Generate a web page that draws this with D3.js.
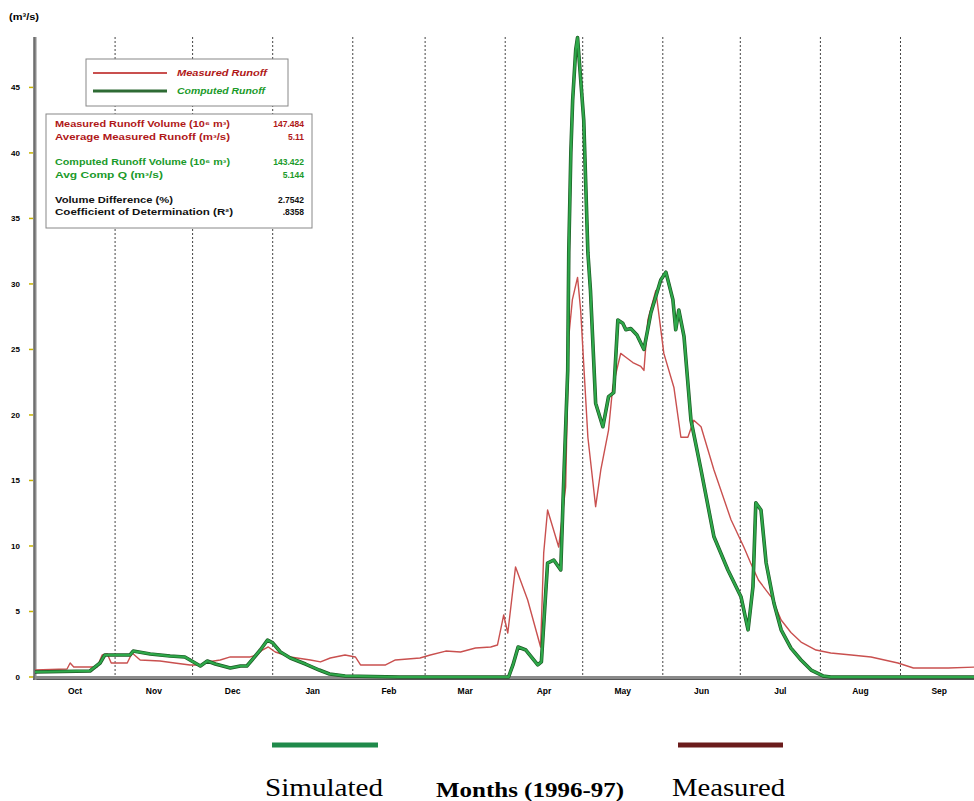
<!DOCTYPE html>
<html>
<head>
<meta charset="utf-8">
<script src="https://cdn.jsdelivr.net/npm/d3@7"></script>
<style>
  html, body { margin: 0; padding: 0; background: #fff; }
  svg { display: block; }
</style>
</head>
<body>
<svg id="chart" width="974" height="801"></svg>
<script>
// ---------------- DATA ----------------
// days since 1 Oct 1996 and discharge (m3/s)
const measuredDays = [0,12.4,13.6,15,24,26,28,29.5,35.7,37.6,40.7,48.4,54,60,64,66.7,71.7,75.6,83.3,85.7,88,90.3,93,98.8,106.6,110.5,114.3,120,124,126,135.7,139.5,149,153,159,164.7,170.5,176.4,179,181.4,183,186,190.7,195.7,196.9,198.4,202.7,205.4,206.6,208,210,211.2,214,217,219,222,223.6,226.7,228.7,231.4,234.5,235.7,237.2,240.3,243.4,247.3,250,252.7,255,257.8,262.8,269.4,274.4,277,280,285,288.8,292.6,296.5,302.3,308,316,323.6,334,340,353.5,364.7];
const measuredValues = [0.53,0.61,1.07,0.76,0.76,1.68,1.76,1.07,1.07,1.83,1.30,1.22,1.07,0.92,0.92,1.15,1.30,1.53,1.53,1.68,2.06,2.29,1.91,1.53,1.30,1.15,1.45,1.68,1.53,0.92,0.92,1.30,1.45,1.68,1.98,1.91,2.21,2.29,2.44,4.73,3.36,8.40,5.88,2.29,9.47,12.75,9.92,14.5,25.95,28.8,30.5,28.0,18.3,13.0,15.8,18.85,22.1,24.7,24.4,24.0,23.7,23.4,27.25,29.5,24.7,22.1,18.3,18.3,19.6,19.1,15.8,12.0,9.9,8.7,7.4,6.1,4.35,3.4,2.67,2.06,1.83,1.68,1.53,1.07,0.69,0.69,0.76];

const computedDays = [0,21.3,25.2,27,36.8,38,44.6,52.3,58,62,64,66.7,69.8,75.6,79.5,82,84,87.2,90,92,95,98.8,104.7,110,114,120,141,183.3,185,187,190,194.6,196,198.4,200.8,203.5,204.7,206.2,206.6,207.4,208.1,209.3,210,212.4,214,215,217,219.8,222,224,225.6,227.5,228.7,230.6,233,235.7,238.4,242.2,244.2,246.9,248,249.2,251.2,253.9,257.8,262.8,268.2,273.3,276,277.9,279,281,283,286,288.8,292.6,296.5,300.4,305,308,364.7];
const computedValues = [0.38,0.46,1.07,1.68,1.68,1.98,1.76,1.60,1.53,1.07,0.84,1.22,0.99,0.69,0.84,0.84,1.30,2.06,2.82,2.60,1.91,1.45,0.99,0.53,0.23,0.08,0,0,0.92,2.29,2.06,0.92,1.15,8.7,8.93,8.17,15.3,23.4,32.4,40.0,44.0,47.9,48.8,42.5,32.4,29.5,20.9,19.1,21.4,21.7,27.25,27.0,26.5,26.6,26.1,25.0,27.8,30.3,30.9,28.8,26.5,28.0,26.0,19.6,15.8,10.7,8.17,6.1,3.6,6.9,13.3,12.75,8.7,5.65,3.6,2.2,1.30,0.53,0.08,0,0];

const monthLabels = ["Oct","Nov","Dec","Jan","Feb","Mar","Apr","May","Jun","Jul","Aug","Sep"];
const yTicks = [0,5,10,15,20,25,30,35,40,45];

const statLabels = [
  "Measured Runoff Volume (10\u2076 m\u00b3)",
  "Average Measured Runoff  (m\u00b3/s)",
  "Computed Runoff Volume (10\u2076 m\u00b3)",
  "Avg Comp Q  (m\u00b3/s)",
  "Volume Difference (%)",
  "Coefficient of Determination (R\u00b2)"
];
const statValues = ["147.484","5.11","143.422","5.144","2.7542",".8358"];
const statGroups = ["m","m","c","c","k","k"];

// ---------------- DRAW ----------------
const svg = d3.select("#chart");
const start = new Date(1996, 9, 1);
const end = new Date(1997, 9, 1);
const x = d3.scaleTime().domain([start, end]).range([35, 978]);
const y = d3.scaleLinear().domain([0, 49]).range([677, 35]);
const dayToDate = d => new Date(start.getTime() + d * 86400000);

const measured = measuredDays.map((d, i) => ({date: dayToDate(d), v: measuredValues[i]}));
const computed = computedDays.map((d, i) => ({date: dayToDate(d), v: computedValues[i]}));

const monthStarts = d3.timeMonth.range(start, end);
const font = "Liberation Sans, Arial, sans-serif";

// month dotted lines
svg.append("g").selectAll("line")
  .data(monthStarts.slice(1))
  .join("line")
  .attr("x1", d => x(d)).attr("x2", d => x(d))
  .attr("y1", 37).attr("y2", 681)
  .attr("stroke", "#444").attr("stroke-width", 1)
  .attr("stroke-dasharray", "2,2");

// x axis line
svg.append("line").attr("x1", 33).attr("x2", 974).attr("y1", 678).attr("y2", 678)
  .attr("stroke", "#8a8a8a").attr("stroke-width", 4);
svg.append("line").attr("x1", 33).attr("x2", 974).attr("y1", 679.5).attr("y2", 679.5)
  .attr("stroke", "#555").attr("stroke-width", 1);

// y axis line
svg.append("line").attr("x1", 35).attr("x2", 35).attr("y1", 37).attr("y2", 680)
  .attr("stroke", "#8a8a8a").attr("stroke-width", 3);
svg.append("line").attr("x1", 34).attr("x2", 34).attr("y1", 37).attr("y2", 680)
  .attr("stroke", "#555").attr("stroke-width", 1);

// y ticks
const yAxis = svg.append("g");
yAxis.selectAll("line").data(yTicks).join("line")
  .attr("x1", 29).attr("x2", 33)
  .attr("y1", d => y(d)).attr("y2", d => y(d))
  .attr("stroke", "#c8b400").attr("stroke-width", 1.5);
yAxis.selectAll("text").data(yTicks).join("text")
  .attr("x", 20).attr("y", d => y(d) + 3)
  .attr("text-anchor", "end")
  .attr("font-family", font)
  .attr("font-size", 8).attr("font-weight", "bold")
  .text(d => d);

svg.append("text").attr("x", 9).attr("y", 20)
  .attr("font-family", font)
  .attr("font-size", 9).attr("font-weight", "bold")
  .attr("textLength", 30).attr("lengthAdjust", "spacingAndGlyphs")
  .text("(m\u00b3/s)");

// month labels
svg.append("g").selectAll("text")
  .data(monthStarts)
  .join("text")
  .attr("x", d => (x(d) + x(d3.timeMonth.offset(d, 1))) / 2)
  .attr("y", 694)
  .attr("text-anchor", "middle")
  .attr("font-family", font)
  .attr("font-size", 8.5).attr("font-weight", "bold")
  .text((d, i) => monthLabels[i]);

// lines
const line = d3.line().x(d => x(d.date)).y(d => y(d.v));
svg.append("path").datum(measured).attr("d", line)
  .attr("fill", "none").attr("stroke", "#c9504f").attr("stroke-width", 1.4)
  .attr("stroke-linejoin", "round");
svg.append("path").datum(computed).attr("d", line)
  .attr("fill", "none").attr("stroke", "#1c5a24").attr("stroke-width", 3.6)
  .attr("stroke-linejoin", "round");
svg.append("path").datum(computed).attr("d", line)
  .attr("fill", "none").attr("stroke", "#2ea84a").attr("stroke-width", 2.2)
  .attr("stroke-linejoin", "round");

// legend box 1
svg.append("rect").attr("x", 86).attr("y", 59).attr("width", 202).attr("height", 47)
  .attr("fill", "#fff").attr("stroke", "#888").attr("stroke-width", 1);
svg.append("line").attr("x1", 93).attr("x2", 167).attr("y1", 73).attr("y2", 73)
  .attr("stroke", "#c9504f").attr("stroke-width", 2);
svg.append("line").attr("x1", 93).attr("x2", 167).attr("y1", 91).attr("y2", 91)
  .attr("stroke", "#2e6b34").attr("stroke-width", 3);
svg.append("text").attr("x", 177).attr("y", 76).attr("font-family", font)
  .attr("font-size", 8.5).attr("font-weight", "bold").attr("font-style", "italic")
  .attr("textLength", 90).attr("lengthAdjust", "spacingAndGlyphs")
  .attr("fill", "#b01818").text("Measured Runoff");
svg.append("text").attr("x", 177).attr("y", 94).attr("font-family", font)
  .attr("font-size", 8.5).attr("font-weight", "bold").attr("font-style", "italic")
  .attr("textLength", 88).attr("lengthAdjust", "spacingAndGlyphs")
  .attr("fill", "#1a9a2a").text("Computed Runoff");

// legend box 2
svg.append("rect").attr("x", 46).attr("y", 114).attr("width", 266).attr("height", 114)
  .attr("fill", "#fff").attr("stroke", "#888").attr("stroke-width", 1);
const colorMap = {m: "#b01818", c: "#1a9a2a", k: "#111"};
const statY = [127, 140, 165, 178, 203, 215];
const labelLen = [175, 175, 175, 108, 118, 178];
const valueLen = [55, 40, 55, 41, 45, 36];
const stats = svg.append("g");
stats.selectAll("text.lab").data(statLabels).join("text")
  .attr("class", "lab")
  .attr("x", 55).attr("y", (d, i) => statY[i])
  .attr("font-family", font).attr("font-size", 8.5).attr("font-weight", "bold")
  .attr("textLength", (d, i) => labelLen[i]).attr("lengthAdjust", "spacingAndGlyphs")
  .attr("fill", (d, i) => colorMap[statGroups[i]])
  .text(d => d);
stats.selectAll("text.val").data(statValues).join("text")
  .attr("class", "val")
  .attr("x", 304).attr("y", (d, i) => statY[i])
  .attr("text-anchor", "end")
  .attr("font-family", font).attr("font-size", 8.5).attr("font-weight", "bold")
  .attr("fill", (d, i) => colorMap[statGroups[i]])
  .text(d => d);

// bottom legend
svg.append("line").attr("x1", 272).attr("x2", 378).attr("y1", 745).attr("y2", 745)
  .attr("stroke", "#1f8a4a").attr("stroke-width", 5);
svg.append("line").attr("x1", 678).attr("x2", 783).attr("y1", 745).attr("y2", 745)
  .attr("stroke", "#6b1c1c").attr("stroke-width", 5);
const serif = "Liberation Serif, Times New Roman, serif";
svg.append("text").attr("x", 265).attr("y", 796)
  .attr("font-family", serif).attr("font-size", 26)
  .attr("textLength", 118).attr("lengthAdjust", "spacingAndGlyphs")
  .text("Simulated");
svg.append("text").attr("x", 436).attr("y", 797)
  .attr("font-family", serif).attr("font-size", 20).attr("font-weight", "bold")
  .attr("textLength", 188).attr("lengthAdjust", "spacingAndGlyphs")
  .text("Months (1996-97)");
svg.append("text").attr("x", 672).attr("y", 796)
  .attr("font-family", serif).attr("font-size", 26)
  .attr("textLength", 113).attr("lengthAdjust", "spacingAndGlyphs")
  .text("Measured");
</script>
</body>
</html>
